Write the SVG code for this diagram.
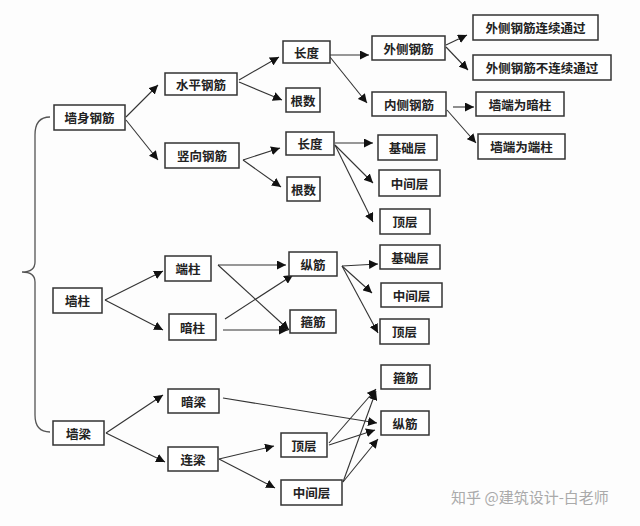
<svg xmlns="http://www.w3.org/2000/svg" width="640" height="526" viewBox="0 0 640 526">
<style>
rect{fill:#fff;stroke:#333;stroke-width:1.5}
text{font-family:"Noto Sans CJK SC","Noto Sans",sans-serif;font-size:12.5px;font-weight:bold;fill:#222;text-anchor:middle;dominant-baseline:central}
.c line{stroke:#333;stroke-width:1.1;marker-end:url(#a)}
</style>
<defs><marker id="a" viewBox="0 0 10 10" refX="10" refY="5" markerWidth="9" markerHeight="9" markerUnits="userSpaceOnUse" orient="auto"><path d="M0,0L10,5L0,10z" fill="#111"/></marker></defs>
<rect x="0" y="0" width="640" height="526" style="fill:#fdfdfd;stroke:none"/>
<path d="M50,117 Q35,117 35,135 L35,262 Q35,272 22,272 Q35,272 35,282 L35,415 Q35,432 50,432" fill="none" stroke="#555" stroke-width="1.3"/>
<g class="c">
<line x1="126" y1="117" x2="158" y2="85"/><line x1="126" y1="120" x2="158" y2="160"/>
<line x1="239" y1="80" x2="279" y2="57"/><line x1="239" y1="82" x2="282" y2="100"/>
<line x1="243" y1="160" x2="280" y2="148"/><line x1="243" y1="160" x2="281" y2="187"/>
<line x1="330" y1="55" x2="369" y2="55"/><line x1="330" y1="57" x2="367" y2="103"/>
<line x1="446" y1="45" x2="467" y2="35"/><line x1="446" y1="47" x2="468" y2="70"/>
<line x1="453" y1="107" x2="474" y2="107"/><line x1="447" y1="110" x2="476" y2="143"/>
<line x1="335" y1="143" x2="373" y2="143"/><line x1="335" y1="145" x2="373" y2="183"/><line x1="335" y1="145" x2="373" y2="222"/>
<line x1="105" y1="300" x2="163" y2="271"/><line x1="105" y1="300" x2="163" y2="330"/>
<line x1="218" y1="265" x2="286" y2="265"/><line x1="218" y1="265" x2="289" y2="330"/>
<line x1="225" y1="319" x2="293" y2="275"/><line x1="223" y1="330" x2="288" y2="330"/>
<line x1="342" y1="266" x2="378" y2="264"/><line x1="342" y1="266" x2="372" y2="293"/><line x1="342" y1="266" x2="378" y2="333"/>
<line x1="106" y1="433" x2="163" y2="395"/><line x1="106" y1="433" x2="165" y2="462"/>
<line x1="223" y1="398" x2="377" y2="423"/>
<line x1="219" y1="459" x2="274" y2="446"/><line x1="219" y1="459" x2="275" y2="488"/>
<line x1="329" y1="443" x2="376" y2="389"/><line x1="329" y1="445" x2="375" y2="430"/>
<line x1="343" y1="482" x2="376" y2="391"/><line x1="343" y1="482" x2="378" y2="439"/>
</g>
<g id="n1"><rect x="54" y="105" width="71" height="25"/><text x="89.5" y="117.5">墙身钢筋</text></g>
<g id="n2"><rect x="165" y="73" width="72" height="22"/><text x="201" y="84">水平钢筋</text></g>
<g id="n3"><rect x="165" y="143" width="74" height="25"/><text x="202" y="155.5">竖向钢筋</text></g>
<g id="n4"><rect x="283" y="41" width="47" height="22"/><text x="306.5" y="52">长度</text></g>
<g id="n5"><rect x="286" y="88" width="34" height="24"/><text x="303" y="100">根数</text></g>
<g id="n6"><rect x="286" y="132" width="48" height="23"/><text x="310" y="143.5">长度</text></g>
<g id="n7"><rect x="287" y="177" width="33" height="24"/><text x="303.5" y="189">根数</text></g>
<g id="n8"><rect x="372" y="36" width="73" height="24"/><text x="408.5" y="48">外侧钢筋</text></g>
<g id="n9"><rect x="372" y="92" width="74" height="24"/><text x="409" y="104">内侧钢筋</text></g>
<g id="n10"><rect x="473" y="15" width="125" height="25"/><text x="535.5" y="27.5">外侧钢筋连续通过</text></g>
<g id="n11"><rect x="473" y="55" width="138" height="25"/><text x="542" y="67.5">外侧钢筋不连续通过</text></g>
<g id="n12"><rect x="476" y="92" width="88" height="24"/><text x="520" y="104">墙端为暗柱</text></g>
<g id="n13"><rect x="478" y="134" width="87" height="25"/><text x="521.5" y="146.5">墙端为端柱</text></g>
<g id="n14"><rect x="378" y="135" width="59" height="25"/><text x="407.5" y="147.5">基础层</text></g>
<g id="n15"><rect x="379" y="170" width="61" height="26"/><text x="409.5" y="183">中间层</text></g>
<g id="n16"><rect x="380" y="209" width="50" height="25"/><text x="405" y="221.5">顶层</text></g>
<g id="n17"><rect x="53" y="288" width="49" height="25"/><text x="77.5" y="300.5">墙柱</text></g>
<g id="n18"><rect x="165" y="256" width="46" height="25"/><text x="188" y="268.5">端柱</text></g>
<g id="n19"><rect x="169" y="314" width="47" height="26"/><text x="192.5" y="327">暗柱</text></g>
<g id="n20"><rect x="289" y="252" width="48" height="24"/><text x="313" y="264">纵筋</text></g>
<g id="n21"><rect x="290" y="310" width="46" height="23"/><text x="313" y="321.5">箍筋</text></g>
<g id="n22"><rect x="380" y="245" width="60" height="24"/><text x="410" y="257">基础层</text></g>
<g id="n23"><rect x="381" y="283" width="61" height="24"/><text x="411.5" y="295">中间层</text></g>
<g id="n24"><rect x="380" y="319" width="49" height="25"/><text x="404.5" y="331.5">顶层</text></g>
<g id="n25"><rect x="381" y="365" width="49" height="24"/><text x="405.5" y="377">箍筋</text></g>
<g id="n26"><rect x="381" y="411" width="48" height="24"/><text x="405" y="423">纵筋</text></g>
<g id="n27"><rect x="168" y="389" width="51" height="24"/><text x="193.5" y="401">暗梁</text></g>
<g id="n28"><rect x="53" y="421" width="51" height="24"/><text x="78.5" y="433">墙梁</text></g>
<g id="n29"><rect x="168" y="447" width="50" height="24"/><text x="193" y="459">连梁</text></g>
<g id="n30"><rect x="281" y="433" width="46" height="24"/><text x="304" y="445">顶层</text></g>
<g id="n31"><rect x="281" y="480" width="61" height="25"/><text x="311.5" y="492.5">中间层</text></g>
<text x="530" y="496" style="font-weight:normal;font-size:15px;fill:#aaa">知乎 @建筑设计-白老师</text>
</svg>
